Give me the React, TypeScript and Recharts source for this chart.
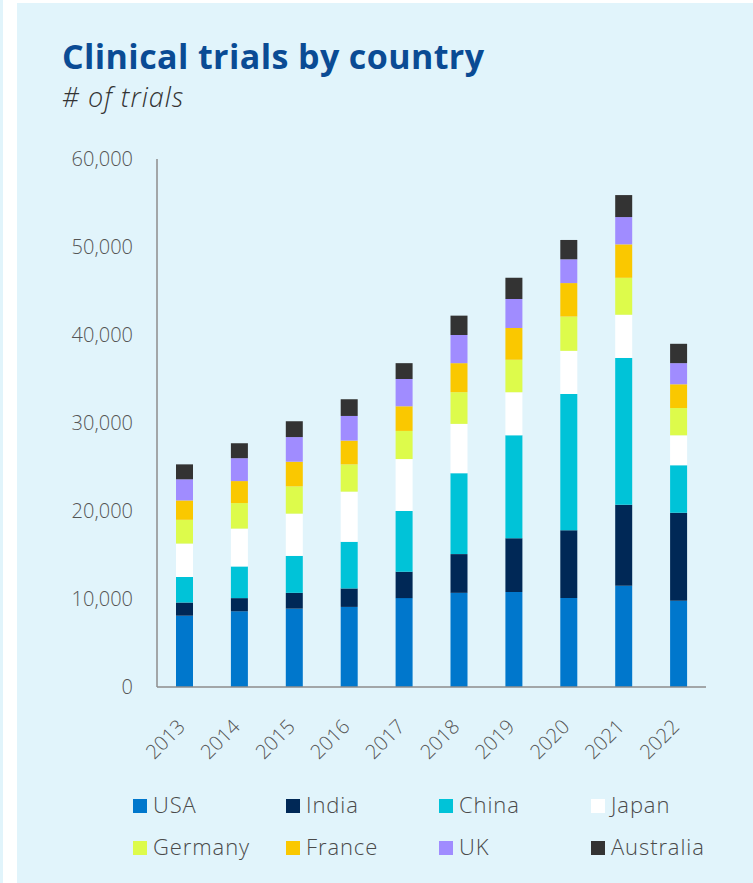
import React from "react";
import { Bar, BarChart, XAxis, YAxis } from "recharts";

const years = ["2013", "2014", "2015", "2016", "2017", "2018", "2019", "2020", "2021", "2022"];
const usa = [8100, 8600, 8900, 9100, 10100, 10700, 10800, 10100, 11500, 9800];
const india = [1500, 1500, 1800, 2100, 3000, 4400, 6100, 7700, 9200, 10000];
const china = [2900, 3600, 4200, 5300, 6900, 9200, 11700, 15500, 16700, 5400];
const japan = [3800, 4300, 4800, 5700, 5900, 5600, 4900, 4900, 4900, 3400];
const germany = [2700, 2900, 3100, 3100, 3200, 3600, 3700, 3900, 4200, 3100];
const france = [2200, 2500, 2800, 2700, 2800, 3300, 3600, 3800, 3800, 2700];
const uk = [2400, 2600, 2800, 2800, 3100, 3200, 3300, 2700, 3100, 2400];
const australia = [1700, 1700, 1800, 1900, 1800, 2200, 2400, 2200, 2500, 2200];
const yTicks = [0, 10000, 20000, 30000, 40000, 50000, 60000];

const series = [
  { key: "USA", values: usa, color: "#0077cc" },
  { key: "India", values: india, color: "#002856" },
  { key: "China", values: china, color: "#00c3d8" },
  { key: "Japan", values: japan, color: "#ffffff" },
  { key: "Germany", values: germany, color: "#ddfb4b" },
  { key: "France", values: france, color: "#fac800" },
  { key: "UK", values: uk, color: "#a08cff" },
  { key: "Australia", values: australia, color: "#333333" },
];

const data = years.map((year, i) => {
  const row: Record<string, string | number> = { year };
  series.forEach((s) => (row[s.key] = s.values[i]));
  return row;
});

const font = "'Open Sans', sans-serif";

function YearTick({ x, y, payload }: any) {
  return (
    <text
      x={x + 2}
      y={y + 33}
      transform={`rotate(-45, ${x + 2}, ${y + 33})`}
      textAnchor="end"
      fill="#555"
      fontSize={20}
      fontWeight={300}
      fontFamily={font}
    >
      {payload.value}
    </text>
  );
}

function ChartLegend() {
  return (
    <div
      style={{
        position: "absolute",
        left: 133,
        top: 790,
        display: "grid",
        gridTemplateColumns: "153px 153px 152px 160px",
        rowGap: 14,
        fontFamily: font,
        fontWeight: 300,
        fontSize: 22,
        letterSpacing: 0.9,
        lineHeight: "28px",
        color: "#4a4a4a",
      }}
    >
      {series.map((s) => (
        <div key={s.key} style={{ display: "flex", alignItems: "center", height: 28, whiteSpace: "nowrap" }}>
          <span
            style={{
              width: 14,
              height: 14,
              background: s.color,
              marginRight: 6,
              marginTop: 3,
              display: "inline-block",
            }}
          />
          {s.key}
        </div>
      ))}
    </div>
  );
}

export default function App() {
  return (
    <div style={{ position: "absolute", left: 0, top: 0, width: 753, height: 883, background: "#fff" }}>
      <div style={{ position: "absolute", left: 0, top: 0, width: 3, height: 883, background: "#e1f4fb" }} />
      <div style={{ position: "absolute", left: 17, top: 3, width: 736, height: 880, background: "#e1f4fb" }} />
      <div
        style={{
          position: "absolute",
          left: 62,
          top: 39,
          fontFamily: font,
          fontWeight: 700,
          fontSize: 34,
          lineHeight: "34px",
          letterSpacing: 0.4,
          color: "#0a4b94",
          whiteSpace: "nowrap",
        }}
      >
        Clinical trials by country
      </div>
      <div
        style={{
          position: "absolute",
          left: 62,
          top: 83,
          fontFamily: font,
          fontStyle: "italic",
          fontWeight: 300,
          fontSize: 27,
          lineHeight: "27px",
          letterSpacing: 1,
          color: "#333",
          whiteSpace: "nowrap",
        }}
      >
        # of trials
      </div>
      <div style={{ position: "absolute", left: 0, top: 0 }}>
        <BarChart width={753} height={790} data={data} margin={{ top: 159, right: 47, left: 0, bottom: 43 }} barSize={17}>
          <XAxis
            dataKey="year"
            height={60}
            tickLine={false}
            axisLine={{ stroke: "#8c8c8c", strokeWidth: 1.5 }}
            tick={<YearTick />}
            interval={0}
          />
          <YAxis
            width={157}
            domain={[0, 60000]}
            ticks={yTicks}
            tickLine={false}
            tickSize={0}
            tickMargin={24}
            axisLine={{ stroke: "#8c8c8c", strokeWidth: 1.5 }}
            tickFormatter={(v) => Number(v).toLocaleString("en-US")}
            tick={{ fill: "#555", fontSize: 20, fontWeight: 300, fontFamily: font }}
          />
          {series.map((s) => (
            <Bar key={s.key} dataKey={s.key} stackId="a" fill={s.color} isAnimationActive={false} />
          ))}
        </BarChart>
      </div>
      <ChartLegend />
    </div>
  );
}
